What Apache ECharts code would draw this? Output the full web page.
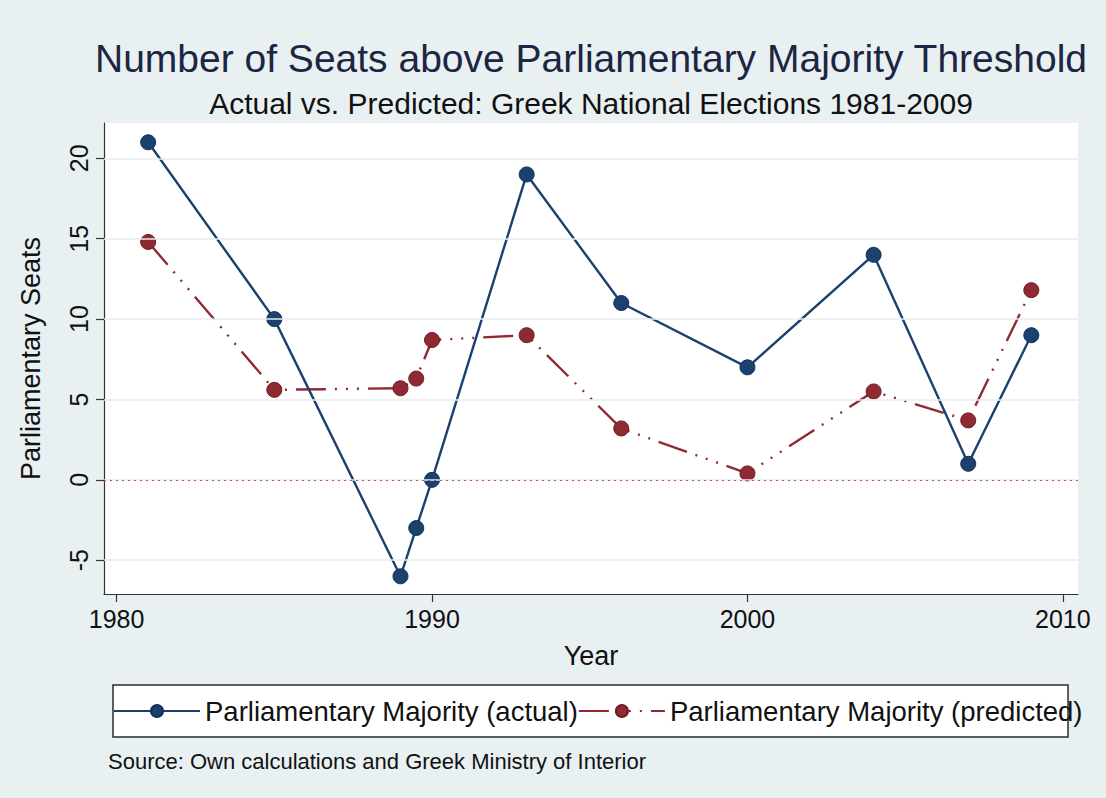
<!DOCTYPE html>
<html>
<head>
<meta charset="utf-8">
<title>Number of Seats above Parliamentary Majority Threshold</title>
<script src="https://cdn.jsdelivr.net/npm/echarts@6/dist/echarts.min.js"></script>
<style>
  html, body { margin: 0; padding: 0; background: #e8f0f2; }
  #chart { width: 1106px; height: 798px; }
</style>
</head>
<body>
<div id="chart"></div>
<script>
// Election dates (fractional years for the two 1989 contests and April 1990)
const years = [1981, 1985, 1989, 1989.5, 1990, 1993, 1996, 2000, 2004, 2007, 2009];
// Seats above the 151-seat majority threshold
const actualSeats = [21, 10, -6, -3, 0, 19, 11, 7, 14, 1, 9];
const predictedSeats = [14.8, 5.6, 5.7, 6.3, 8.7, 9.0, 3.2, 0.4, 5.5, 3.7, 11.8];
// Axis ticks
const xTicks = [1980, 1990, 2000, 2010];
const yTicks = [-5, 0, 5, 10, 15, 20];
const thresholdValue = 0;
const seriesNames = ['Parliamentary Majority (actual)', 'Parliamentary Majority (predicted)'];
const titleText = 'Number of Seats above Parliamentary Majority Threshold';
const subtitleText = 'Actual vs. Predicted: Greek National Elections 1981-2009';
const noteText = 'Source: Own calculations and Greek Ministry of Interior';

const FONT = "'Liberation Sans', Arial, Helvetica, sans-serif";
const NAVY = '#1b416f';
const MAROON = '#8f2a33';

const pairs = (xs, ys) => xs.map((x, i) => [x, ys[i]]);

const chart = echarts.init(document.getElementById('chart'), null, { renderer: 'svg' });

chart.setOption({
  backgroundColor: '#e8f0f2',
  animation: false,
  textStyle: { fontFamily: FONT },
  grid: {
    left: 104, right: 28, top: 123, bottom: 204,
    show: true, backgroundColor: '#ffffff', borderWidth: 0
  },
  xAxis: {
    type: 'value',
    min: 1979.6, max: 2010.48,
    name: 'Year',
    nameLocation: 'middle',
    nameGap: 48,
    nameTextStyle: { fontSize: 27, color: '#111', fontFamily: FONT },
    axisLine: { show: true, onZero: false, lineStyle: { color: '#333', width: 1.2 } },
    axisTick: { show: true, length: 8, customValues: xTicks, lineStyle: { color: '#333', width: 1.2 } },
    axisLabel: {
      customValues: xTicks, fontSize: 25, color: '#111', margin: 12, fontFamily: FONT,
      formatter: v => String(v)
    },
    splitLine: { show: false }
  },
  yAxis: {
    type: 'value',
    min: -7.1, max: 22.2,
    name: 'Parliamentary Seats',
    nameLocation: 'middle',
    nameGap: 60,
    nameTextStyle: { fontSize: 27, color: '#111', fontFamily: FONT },
    axisLine: { show: true, onZero: false, lineStyle: { color: '#333', width: 1.2 } },
    axisTick: { show: true, length: 8, customValues: yTicks, lineStyle: { color: '#333', width: 1.2 } },
    axisLabel: { customValues: yTicks, rotate: 90, fontSize: 25, color: '#111', margin: 13, fontFamily: FONT },
    splitLine: { show: false }
  },
  legend: {
    left: 113, top: 697,
    itemWidth: 86, itemHeight: 15, itemGap: 0,
    padding: 0,
    textStyle: { fontSize: 27.5, color: '#111', fontFamily: FONT },
    data: seriesNames
  },
  series: [
    {
      // horizontal grid lines at the y ticks
      type: 'line', data: [], silent: true,
      markLine: {
        silent: true, symbol: 'none', label: { show: false },
        lineStyle: { color: '#e6edf0', width: 1.5, type: 'solid' },
        data: yTicks.map(v => ({ yAxis: v }))
      },
      z: 1
    },
    {
      name: seriesNames[0],
      type: 'line',
      data: pairs(years, actualSeats),
      symbol: 'circle', symbolSize: 15,
      lineStyle: { color: NAVY, width: 2.4 },
      itemStyle: { color: NAVY, borderColor: '#12305a', borderWidth: 1 },
      z: 4
    },
    {
      name: seriesNames[1],
      type: 'line',
      data: pairs(years, predictedSeats),
      symbol: 'circle', symbolSize: 15,
      lineStyle: { color: MAROON, width: 2.4, type: [30, 9, 2, 9, 2, 9, 2, 9], cap: 'butt' },
      itemStyle: { color: MAROON, borderColor: '#6e1b22', borderWidth: 1 },
      markLine: {
        silent: true, symbol: 'none', label: { show: false },
        lineStyle: { color: '#c2515c', width: 1.2, type: [2, 4] },
        data: [{ yAxis: thresholdValue }]
      },
      z: 3
    }
  ],
  graphic: [
    {
      type: 'rect', z: 0,
      shape: { x: 113, y: 685, width: 955, height: 52 },
      style: { fill: '#ffffff', stroke: '#2b2b2b', lineWidth: 1.5 }
    },
    {
      type: 'text', x: 591, y: 58,
      style: { text: titleText, fontSize: 39, fontFamily: FONT, fill: '#1c2541', align: 'center', verticalAlign: 'middle' }
    },
    {
      type: 'text', x: 591, y: 103,
      style: { text: subtitleText, fontSize: 30, fontFamily: FONT, fill: '#111', align: 'center', verticalAlign: 'middle' }
    },
    {
      type: 'text', x: 108, y: 761,
      style: { text: noteText, fontSize: 22, fontFamily: FONT, fill: '#111', align: 'left', verticalAlign: 'middle' }
    }
  ]
});
</script>
</body>
</html>
